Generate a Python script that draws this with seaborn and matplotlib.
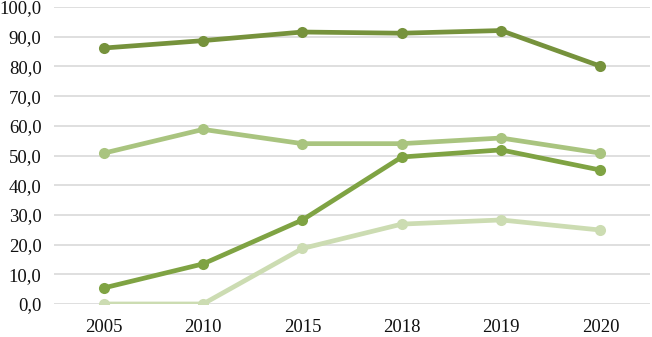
import pandas as pd
import seaborn as sns
import matplotlib.pyplot as plt
from matplotlib.ticker import FuncFormatter

# data
years = ['2005', '2010', '2015', '2018', '2019', '2020']
series_a = [86.2, 88.7, 91.6, 91.2, 92.1, 80.1]
series_b = [50.8, 58.8, 54.0, 54.0, 55.9, 50.8]
series_c = [5.4, 13.5, 28.3, 49.5, 51.9, 45.1]
series_d = [0.0, 0.0, 18.7, 26.9, 28.3, 24.9]

colors = ['#76923C', '#A9C47F', '#7FA343', '#CCDCB2']

sns.set_style("white")
plt.rcParams['font.family'] = ['Liberation Serif', 'DejaVu Serif']

fig = plt.figure(figsize=(6.52, 3.37), dpi=100)
ax = fig.add_axes([0.083, 0.098, 0.914, 0.881])

for vals, col in zip([series_d, series_b, series_c, series_a], [colors[3], colors[1], colors[2], colors[0]]):
    df = pd.DataFrame({'year': years, 'value': vals})
    sns.lineplot(data=df, x='year', y='value', sort=False, color=col,
                 linewidth=3.4, marker='o', markersize=8, markeredgewidth=0, ax=ax)

ax.set_xlim(-0.5, len(years) - 0.5)
ax.set_ylim(0, 100)
ax.set_yticks(range(0, 101, 10))
ax.yaxis.set_major_formatter(FuncFormatter(lambda v, p: f"{v:.1f}".replace('.', ',')))
ax.yaxis.grid(True, color='#D9D9D9', linewidth=1.2)
ax.set_axisbelow(True)
ax.set_xlabel('')
ax.set_ylabel('')
for s in ax.spines.values():
    s.set_visible(False)
ax.tick_params(axis='both', length=0, labelsize=13.5)
ax.tick_params(axis='x', pad=11)
ax.tick_params(axis='y', pad=9)
for lbl in ax.get_xticklabels() + ax.get_yticklabels():
    lbl.set_color('#111111')

fig.savefig('out.png', dpi=100)
